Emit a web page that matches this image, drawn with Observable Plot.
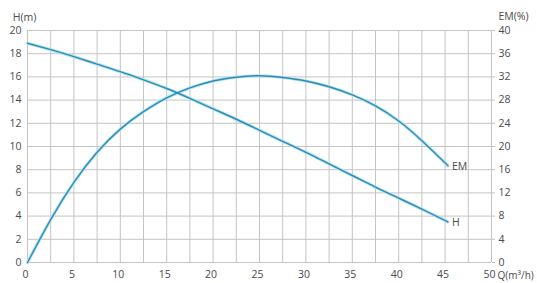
<!DOCTYPE html>
<html>
<head>
<meta charset="utf-8">
<script src="https://cdn.jsdelivr.net/npm/d3@7"></script>
<script src="https://cdn.jsdelivr.net/npm/@observablehq/plot@0.6"></script>
<style>
  html, body { margin: 0; padding: 0; background: #fff; }
  #chart { width: 537px; height: 283px; }
</style>
</head>
<body>
<div id="chart"></div>
<script>
// Head curve H (m) vs flow Q (m³/h)
const hQ = [0, 2.5, 5, 7.5, 10, 12.5, 15, 17.5, 20, 22.5, 25, 27.5, 30, 32.5, 35, 37.5, 40, 42.5, 45.3];
const hVal = [18.9, 18.35, 17.75, 17.1, 16.45, 15.75, 15.0, 14.15, 13.25, 12.35, 11.4, 10.45, 9.5, 8.5, 7.5, 6.5, 5.55, 4.6, 3.5];
// Efficiency curve EM (%) vs flow Q (m³/h)
const emQ = [0, 2.5, 5, 7.5, 10, 12.5, 15, 17.5, 20, 22.5, 25, 27.5, 30, 32.5, 35, 37.5, 40, 42.5, 45.3];
const emVal = [0, 7.4, 13.8, 19.0, 23.0, 26.0, 28.4, 30.1, 31.3, 31.95, 32.2, 31.9, 31.3, 30.3, 28.9, 27.0, 24.4, 21.0, 16.7];
// Tick labels
const qTicks = [0, 5, 10, 15, 20, 25, 30, 35, 40, 45, 50];
const hTicks = [0, 2, 4, 6, 8, 10, 12, 14, 16, 18, 20];
const emTicks = [0, 4, 8, 12, 16, 20, 24, 28, 32, 36, 40];
const qGrid = d3.range(0, 50.01, 2.5);
const curveNames = ["H", "EM"];
const axisTitles = { left: "H(m)", right: "EM(%)", bottom: "Q(m³/h)" };

const EM_MAX = 40, H_MAX = 20;
const emToH = v => v * H_MAX / EM_MAX;

const hData = hQ.map((q, i) => ({ q, v: hVal[i] }));
const emData = emQ.map((q, i) => ({ q, v: emToH(emVal[i]) }));
const ends = [
  { name: curveNames[0], ...hData[hData.length - 1] },
  { name: curveNames[1], ...emData[emData.length - 1] }
];

const ink = "#4a4a4a";
const lineCol = "#3489b3";
const glow = "#aee6f6";

const chart = Plot.plot({
  width: 537,
  height: 283,
  marginLeft: 27,
  marginRight: 46,
  marginTop: 30,
  marginBottom: 21,
  style: { fontFamily: "'Open Sans', 'Noto Sans', sans-serif", fontSize: "10.5px", color: ink, background: "#fff" },
  x: { domain: [0, 50] },
  y: { domain: [0, H_MAX] },
  marks: [
    Plot.ruleX(qGrid, { stroke: "#c4c4c4", strokeWidth: 1 }),
    Plot.ruleY(hTicks, { stroke: "#c4c4c4", strokeWidth: 1, x1: 0, x2: 50 }),
    Plot.axisX({ ticks: qTicks, tickSize: 0, tickPadding: 8, dx: -2, label: null, fill: ink }),
    Plot.axisY({ ticks: hTicks, tickSize: 0, tickPadding: 6, label: null, fill: ink }),
    Plot.axisY({ anchor: "right", ticks: emTicks.map(emToH), tickFormat: (d, i) => emTicks[i], tickSize: 3, tickPadding: 4, label: null, stroke: "#c4c4c4", fill: ink }),
    // glow under curves
    Plot.line(hData, { x: "q", y: "v", curve: "natural", stroke: glow, strokeWidth: 3.2 }),
    Plot.line(emData, { x: "q", y: "v", curve: "natural", stroke: glow, strokeWidth: 3.2 }),
    Plot.line(hData, { x: "q", y: "v", curve: "natural", stroke: lineCol, strokeWidth: 1.4 }),
    Plot.line(emData, { x: "q", y: "v", curve: "natural", stroke: lineCol, strokeWidth: 1.4 }),
    Plot.text(ends, { x: "q", y: "v", text: "name", textAnchor: "start", dx: 4, dy: 1, fill: ink, fontSize: 10.5 }),
    Plot.text([axisTitles.left], { frameAnchor: "top-left", textAnchor: "middle", dx: -3, dy: -17, fill: ink, fontSize: 10.5 }),
    Plot.text([axisTitles.right], { frameAnchor: "top-right", textAnchor: "middle", dx: 22, dy: -18, fill: ink, fontSize: 10.5 }),
    Plot.text([axisTitles.bottom], { frameAnchor: "bottom-right", textAnchor: "start", lineAnchor: "top", dx: 6, dy: 9, fill: ink, fontSize: 10 })
  ]
});
document.getElementById("chart").appendChild(chart);
</script>
</body>
</html>
